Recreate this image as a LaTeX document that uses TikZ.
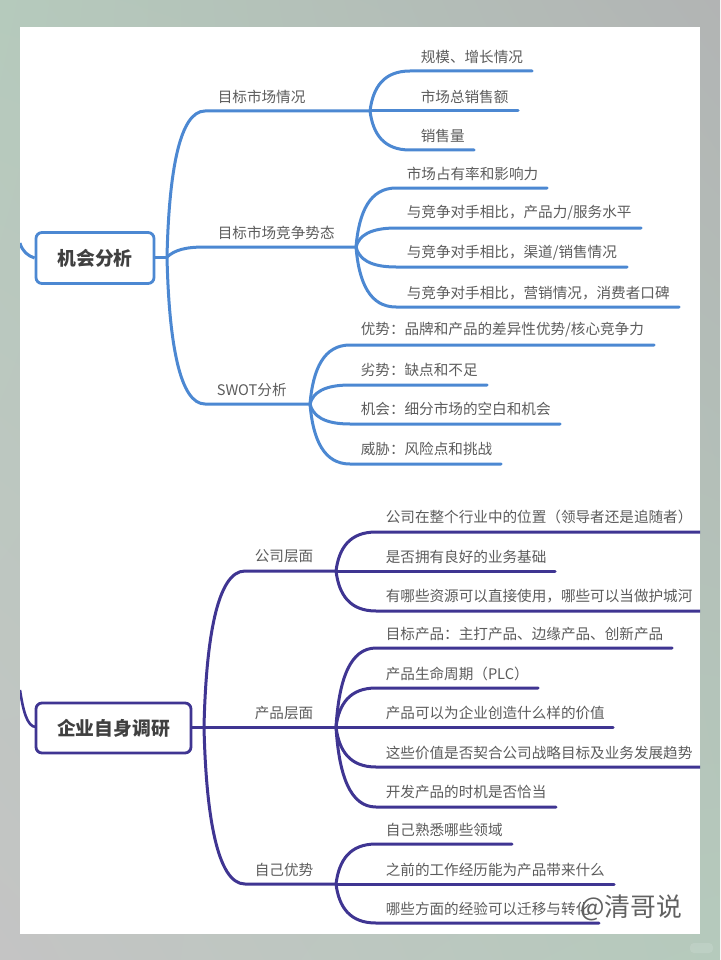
\documentclass[tikz,border=0pt]{standalone}
\usepackage{fontspec}
\setmainfont{Noto Sans CJK SC}
\usetikzlibrary{calc,shadings}
\definecolor{bluel}{HTML}{4C88D2}
\definecolor{purpl}{HTML}{3F3592}
\definecolor{txt}{HTML}{5C5C5C}
\definecolor{bgul}{HTML}{B5CABC}
\definecolor{bgur}{HTML}{B2B4B4}
\definecolor{bgll}{HTML}{C4C4C4}
\definecolor{bglr}{HTML}{B5CABC}
\tikzset{
  boxn/.style={draw=#1,fill=white,line width=2.8pt,rounded corners=6pt,text=black!75,font=\fontsize{18.8pt}{22pt}\selectfont\bfseries,inner sep=0pt,align=center},
  lab/.style={anchor=west,inner sep=0pt,text=txt,font=\fontsize{14.6pt}{17pt}\selectfont,yshift=-0.8pt,xshift=-0.4pt},
  wire/.style={draw=#1,line width=3pt,line cap=round}
}
\newcommand{\leafset}[3]{%
  \foreach \yl/\xe/\yt/\xt/\txt in {#3} {
    \node[lab] (\yl-t) at (\xt,\yt) {\txt};
    \coordinate (\yl-e) at (\xe-1,\yl);
    \draw[wire=#2] (#1) .. controls ($(#1)!.6!(#1|-\yl-e)+(3,0)$) and ($(#1|-\yl-e)+(14,0)$) .. ($(#1|-\yl-e)+(40,0)$) -- (\yl-e);
  }
}
\begin{document}
\begin{tikzpicture}[x=1pt,y=-1pt]
\useasboundingbox (0,0) rectangle (720,960);
\shade[upper left=bgul,upper right=bgur,lower left=bgll,lower right=bglr] (0,0) rectangle (720,960);
\fill[white,opacity=.12,rounded corners=4pt] (690,943) rectangle (713,953);
\fill[white] (20,27) rectangle (700,934);

% ---- first topic
\node[boxn=bluel,minimum width=118pt,minimum height=51pt] (r1) at (95,258) {机会分析};
\coordinate (r1l) at (20,243);
\coordinate (r1j) at (167,257);
\begin{scope}
\clip (20,27) rectangle (700,934);
\draw[wire=bluel,line cap=butt] (r1l) .. controls (22,251) and (28,256) .. (r1.west);
\draw[wire=purpl,line cap=butt,line width=2.6pt] (20,690) .. controls (23,710) and (27,727) .. (36,727);
\end{scope}
\draw[wire=bluel,line cap=butt] (r1.east|-r1j) -- (r1j);
\coordinate (a) at (370,111);
\coordinate (b) at (356,247);
\coordinate (c) at (310,404);
\node[lab] (at) at (218,96) {目标市场情况};
\node[lab] (bt) at (218,232) {目标市场竞争势态};
\node[lab] (ct) at (217,389) {SWOT分析};
\draw[wire=bluel] (r1j) .. controls (169,170) and (180,111) .. (205,111) -- (a);
\draw[wire=bluel] (r1j) .. controls (175,250) and (185,247) .. (205,247) -- (b);
\draw[wire=bluel] (r1j) .. controls (169,344) and (180,404) .. (205,404) -- (c);
\leafset{a}{bluel}{71/533/56/421/{规模、增长情况},111/519/96/421/{市场总销售额},150/475/135/421/{销售量}}
\leafset{b}{bluel}{188/548/173/407/{市场占有率和影响力},228/642/212/407/{与竞争对手相比，产品力/服务水平},267/628/252/407/{与竞争对手相比，渠道/销售情况},307/680/292/407/{与竞争对手相比，营销情况，消费者口碑}}
\leafset{c}{bluel}{345/655/329/361/{优势：品牌和产品的差异性优势/核心竞争力},385/488/369/361/{劣势：缺点和不足},424/561/408/361/{机会：细分市场的空白和机会},464/502/448/361/{威胁：风险点和挑战}}

% ---- second topic
\node[boxn=purpl,minimum width=155pt,minimum height=50pt] (r2) at (113.5,728) {企业自身调研};
\coordinate (r2j) at (204,727);
\draw[wire=purpl,line cap=butt] (r2.east|-r2j) -- (r2j);
\coordinate (d) at (336,571);
\coordinate (e) at (336,727);
\coordinate (f) at (336,884);
\node[lab] (dt) at (255,555) {公司层面};
\node[lab] (et) at (255,712) {产品层面};
\node[lab] (ft) at (255,869) {自己优势};
\draw[wire=purpl] (r2j) .. controls (206,640) and (217,571) .. (245,571) -- (d);
\draw[wire=purpl] (r2j) -- (e);
\draw[wire=purpl] (r2j) .. controls (206,814) and (217,884) .. (245,884) -- (f);
\begin{scope}
\clip (20,27) rectangle (700,934);
\leafset{d}{purpl}{532/705/516/386/{公司在整个行业中的位置（领导者还是追随者）},571/556/556/386/{是否拥有良好的业务基础},611/705/595/386/{有哪些资源可以直接使用，哪些可以当做护城河}}
\leafset{e}{purpl}{648/673/633/386/{目标产品：主打产品、边缘产品、创新产品},688/539/673/386/{产品生命周期（PLC）},727/614/712/386/{产品可以为企业创造什么样的价值},767/705/752/386/{这些价值是否契合公司战略目标及业务发展趋势},807/557/791/386/{开发产品的时机是否恰当}}
\leafset{f}{purpl}{844/513/829/386/{自己熟悉哪些领域},884/615/869/386/{之前的工作经历能为产品带来什么},923/600/908/386/{哪些方面的经验可以迁移与转化}}
\end{scope}
\node[anchor=west,inner sep=0pt,text=black!62,font=\fontsize{25.8pt}{30pt}\selectfont] (wm) at (580,908) {@清哥说};
\end{tikzpicture}
\end{document}
